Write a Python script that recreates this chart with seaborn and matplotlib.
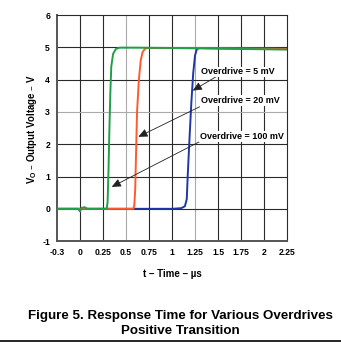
import matplotlib
matplotlib.use("Agg")
import matplotlib.pyplot as plt
import seaborn as sns
import pandas as pd

# ---- data ----
t_5mv = [-0.25, 0.0, 0.5, 1.0, 1.10, 1.14, 1.16, 1.17, 1.19, 1.21, 1.23, 1.25, 1.27, 1.30, 1.6, 2.0, 2.25]
v_5mv = [0.0, 0.0, 0.0, 0.0, 0.02, 0.08, 0.3, 1.0, 2.2, 3.3, 4.2, 4.75, 4.95, 4.98, 4.97, 4.96, 4.95]

t_20mv = [-0.25, 0.0, 0.3, 0.58, 0.59, 0.60, 0.61, 0.62, 0.64, 0.66, 0.68, 0.71, 0.75, 1.2, 2.0, 2.25]
v_20mv = [0.0, 0.0, 0.0, 0.0, 0.1, 0.6, 1.8, 3.0, 4.0, 4.6, 4.85, 4.97, 4.98, 4.98, 4.96, 4.95]

t_100mv = [-0.25, -0.02, 0.0, 0.02, 0.05, 0.08, 0.29, 0.30, 0.31, 0.32, 0.33, 0.34, 0.36, 0.39, 0.43, 0.6, 1.0, 1.75, 2.25]
v_100mv = [0.0, 0.0, -0.08, 0.03, 0.05, 0.0, 0.0, 0.2, 1.2, 2.5, 3.6, 4.4, 4.8, 4.95, 4.99, 4.99, 4.98, 4.95, 4.93]

series_labels = ["Overdrive = 5 mV", "Overdrive = 20 mV", "Overdrive = 100 mV"]
series_colors = ["#1f36a8", "#ff5a2e", "#1fa047"]

x_ticks = [-0.25, 0, 0.25, 0.5, 0.75, 1, 1.25, 1.5, 1.75, 2, 2.25]
x_tick_labels = ["-0.3", "0", "0.25", "0.5", "0.75", "1", "1.25", "1.5", "1.75", "2", "2.25"]
y_ticks = [-1, 0, 1, 2, 3, 4, 5, 6]

df = pd.concat([
    pd.DataFrame({"t": t_5mv, "v": v_5mv, "s": series_labels[0]}),
    pd.DataFrame({"t": t_20mv, "v": v_20mv, "s": series_labels[1]}),
    pd.DataFrame({"t": t_100mv, "v": v_100mv, "s": series_labels[2]}),
])

sns.set_style("white")
plt.rcParams["font.family"] = ["Liberation Sans", "DejaVu Sans"]
plt.rcParams["font.weight"] = "bold"
plt.rcParams["text.color"] = "black"
plt.rcParams["xtick.color"] = "black"
plt.rcParams["ytick.color"] = "black"
plt.rcParams["axes.labelcolor"] = "black"
plt.rcParams["axes.unicode_minus"] = False

fig = plt.figure(figsize=(3.41, 3.42), dpi=100)
ax = fig.add_axes([0.167, 0.295, 0.675, 0.661])

sns.lineplot(data=df, x="t", y="v", hue="s", hue_order=series_labels,
             palette=series_colors, ax=ax, legend=False, linewidth=1.4,
             estimator=None, sort=False, zorder=3)

ax.set_xlim(-0.25, 2.25)
ax.set_ylim(-1, 6)
ax.set_xticks(x_ticks)
ax.set_xticklabels(x_tick_labels)
ax.set_yticks(y_ticks)
ax.tick_params(axis="both", labelsize=6.2, length=2, width=0.8, color="#555555", pad=3,
               labelcolor="black")
for lab in ax.get_xticklabels() + ax.get_yticklabels():
    lab.set_fontweight("bold")

# grid
light_x = [0.5, 1.25]
light_y = [3]
for xv in x_ticks[1:-1]:
    ax.axvline(xv, color="#aaaaaa" if xv in light_x else "#2a2a2a", lw=0.8, zorder=1)
for yv in y_ticks[1:-1]:
    ax.axhline(yv, color="#aaaaaa" if yv in light_y else "#2a2a2a", lw=0.8, zorder=1)

for side in ["top", "right"]:
    ax.spines[side].set_color("#2a2a2a")
    ax.spines[side].set_linewidth(0.8)
for side in ["left", "bottom"]:
    ax.spines[side].set_color("#555555")
    ax.spines[side].set_linewidth(1.4)

ax.set_xlabel("t – Time – µs", fontsize=7.0, fontweight="bold", color="black")
ax.set_ylabel("V$_\\mathregular{O}$ – Output Voltage – V", fontsize=6.9, fontweight="bold",
              color="black")
ax.xaxis.set_label_coords(0.5, -0.122)
ax.yaxis.set_label_coords(-0.078, 0.496)

# annotations
text_pos = [(1.32, 4.24), (1.31, 3.35), (1.30, 2.23)]
arrow_tip = [(1.225, 3.66), (0.634, 2.23), (0.345, 0.68)]
arrow_tail = [(1.49, 4.11), (1.30, 3.16), (1.30, 2.08)]
for lab, tp, tip, tail in zip(series_labels, text_pos, arrow_tip, arrow_tail):
    ax.text(tp[0], tp[1], lab, fontsize=6.5, fontweight="bold", ha="left", va="center",
            color="black", zorder=6,
            bbox=dict(facecolor="white", edgecolor="none", pad=0.6))
    ax.annotate("", xy=tip, xytext=tail,
                arrowprops=dict(arrowstyle="-|>,head_length=0.55,head_width=0.25",
                                color="#222222", lw=0.6, shrinkA=0, shrinkB=0),
                zorder=5)

cap_x = 180 / 341
fig.text(cap_x, 1 - 316 / 342, "Figure 5. Response Time for Various Overdrives",
         ha="center", va="center", fontsize=9.6, fontweight="bold", color="black")
fig.text(cap_x, 1 - 331.5 / 342, "Positive Transition",
         ha="center", va="center", fontsize=9.6, fontweight="bold", color="black")
fig.add_artist(plt.Line2D([0.0, 1.0], [1 - 340.5 / 342] * 2, color="black", lw=1.2,
                          transform=fig.transFigure))

fig.savefig("out.png", dpi=100)
